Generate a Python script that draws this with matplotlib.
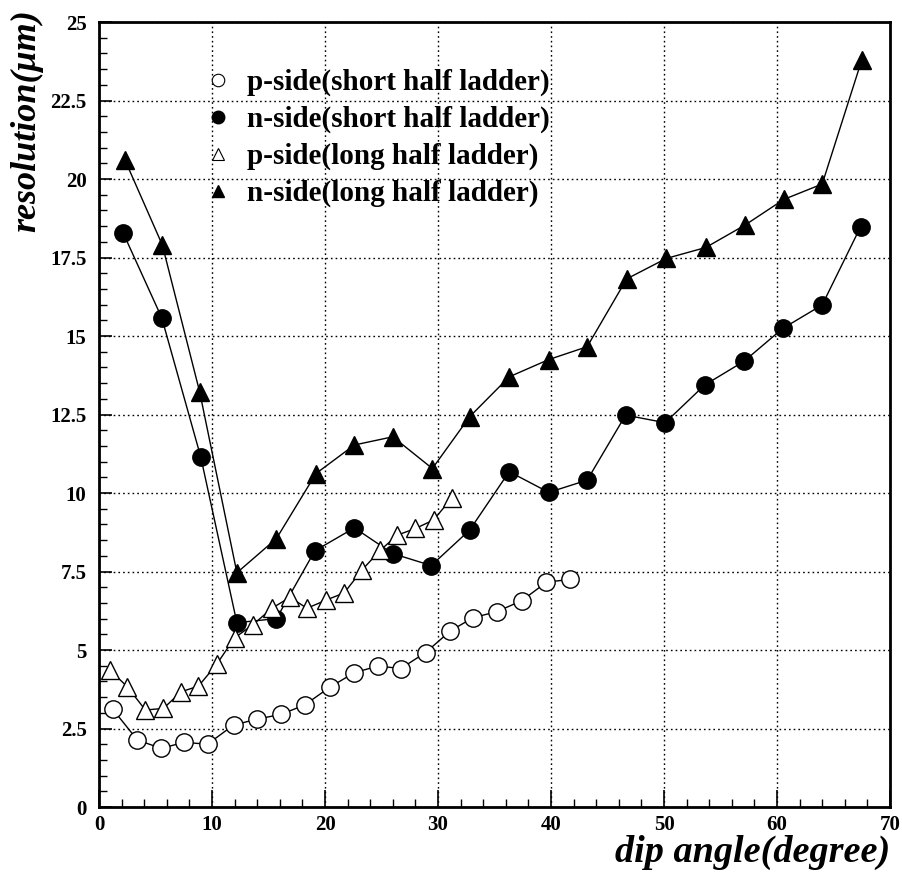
import matplotlib
matplotlib.use("Agg")
import matplotlib.pyplot as plt
from matplotlib.lines import Line2D
from matplotlib.ticker import MultipleLocator

# p-side (short half ladder)
p_short_x = [1.2, 3.4, 5.5, 7.55, 9.6, 11.9, 14.0, 16.1, 18.2, 20.4, 22.6, 24.7,
             26.7, 28.9, 31.1, 33.1, 35.2, 37.4, 39.6, 41.7]
p_short_y = [3.12, 2.13, 1.87, 2.06, 2.0, 2.61, 2.80, 2.95, 3.25, 3.81, 4.28, 4.49,
             4.41, 4.92, 5.61, 6.03, 6.22, 6.57, 7.16, 7.25]

# n-side (short half ladder)
n_short_x = [2.15, 5.55, 9.0, 12.2, 15.7, 19.1, 22.6, 26.0, 29.4, 32.8, 36.3, 39.8,
             43.2, 46.6, 50.1, 53.6, 57.1, 60.5, 64.0, 67.4]
n_short_y = [18.27, 15.58, 11.15, 5.87, 6.0, 8.16, 8.89, 8.07, 7.69, 8.82, 10.68, 10.02,
             10.41, 12.48, 12.24, 13.44, 14.2, 15.24, 15.99, 18.48]

# p-side (long half ladder)
p_long_x = [0.97, 2.5, 4.1, 5.7, 7.26, 8.8, 10.4, 12.0, 13.6, 15.3, 16.9, 18.4,
            20.1, 21.7, 23.3, 24.9, 26.4, 28.0, 29.6, 31.2]
p_long_y = [4.36, 3.83, 3.09, 3.14, 3.67, 3.85, 4.54, 5.39, 5.80, 6.33, 6.68, 6.33,
            6.59, 6.82, 7.56, 8.18, 8.66, 8.87, 9.14, 9.83]

# n-side (long half ladder)
n_long_x = [2.3, 5.6, 8.9, 12.2, 15.7, 19.2, 22.6, 26.0, 29.5, 32.8, 36.3, 39.8,
            43.2, 46.7, 50.2, 53.7, 57.2, 60.6, 64.0, 67.5]
n_long_y = [20.6, 17.9, 13.23, 7.46, 8.55, 10.62, 11.53, 11.79, 10.78, 12.43, 13.70, 14.25,
            14.66, 16.82, 17.47, 17.82, 18.54, 19.35, 19.84, 23.79]

labels = ["p-side(short half ladder)", "n-side(short half ladder)",
          "p-side(long half ladder)", "n-side(long half ladder)"]

x_ticks = [0, 10, 20, 30, 40, 50, 60, 70]
y_ticks = [0, 2.5, 5, 7.5, 10, 12.5, 15, 17.5, 20, 22.5, 25]
y_tick_labels = ["0", "2.5", "5", "7.5", "10", "12.5", "15", "17.5", "20", "22.5", "25"]

serif = ["Liberation Serif", "DejaVu Serif"]
plt.rcParams['font.family'] = serif

fig = plt.figure(figsize=(9.02, 8.77), dpi=100)
ax = fig.add_axes([0.1098, 0.0798, 0.8769, 0.8951])

ms = 12.5
lw = 1.0
ax.plot(p_short_x, p_short_y, color='black', lw=lw, marker='o', ms=ms,
        mfc='white', mec='black', mew=1.0, zorder=3)
ax.plot(n_short_x, n_short_y, color='black', lw=lw, marker='o', ms=ms,
        mfc='black', mec='black', zorder=3)
ax.plot(p_long_x, p_long_y, color='black', lw=lw, marker='^', ms=ms,
        mfc='white', mec='black', mew=1.0, zorder=3)
ax.plot(n_long_x, n_long_y, color='black', lw=lw, marker='^', ms=ms,
        mfc='black', mec='black', zorder=3)

ax.set_xlim(0, 70)
ax.set_ylim(0, 25)
ax.set_xticks(x_ticks)
ax.set_yticks(y_ticks)
ax.set_yticklabels(y_tick_labels)
ax.xaxis.set_minor_locator(MultipleLocator(2))
ax.yaxis.set_minor_locator(MultipleLocator(0.5))
ax.tick_params(axis='x', which='major', direction='in', length=12, width=1.2,
               labelsize=15, pad=6)
ax.tick_params(axis='y', which='major', direction='in', length=9, width=1.2,
               labelsize=15, pad=9)
ax.tick_params(axis='both', which='minor', direction='in', length=6, width=1.0)
ax.tick_params(top=False, right=False, which='both')
for lab in ax.get_xticklabels() + ax.get_yticklabels():
    lab.set_fontweight('bold')

ax.grid(True, which='major', color='black', linestyle=(0, (1.2, 2.2)), linewidth=1.0)
for s in ax.spines.values():
    s.set_linewidth(2.0)

fig.text(0.9867, 0.0285, "dip angle(degree)", ha='right', va='center',
         fontsize=27.5, fontweight='bold', fontstyle='italic')
fig.text(0.03, 0.99, "resolution(μm)", ha='center', va='top', rotation=90,
         fontsize=26, fontweight='bold', fontstyle='italic')

handles = [
    Line2D([], [], ls='none', marker='o', ms=9, mfc='white', mec='black', mew=0.8),
    Line2D([], [], ls='none', marker='o', ms=9, mfc='black', mec='black'),
    Line2D([], [], ls='none', marker='^', ms=9, mfc='white', mec='black', mew=0.8),
    Line2D([], [], ls='none', marker='^', ms=9, mfc='black', mec='black'),
]
leg = ax.legend(handles, labels, loc='upper left', bbox_to_anchor=(0.117, 0.955),
                frameon=False, handlelength=1.0, handletextpad=0.5,
                labelspacing=0.33, borderaxespad=0,
                prop={'family': serif, 'weight': 'bold', 'size': 21})

fig.savefig("out.png", dpi=100)
